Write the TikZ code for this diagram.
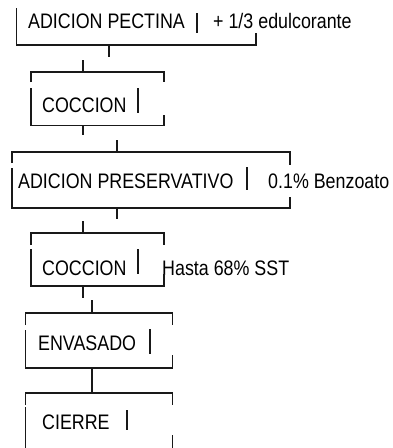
\documentclass[tikz,border=0pt]{standalone}
\usepackage{fontspec}
\setmainfont{Liberation Sans}[FakeStretch=0.85]
\begin{document}
\begin{tikzpicture}[x=1pt,y=-1pt,
  ln/.style={line width=1.2pt,black!90},
  lbl/.style={inner sep=0pt,anchor=base west,font=\fontsize{21}{24}\selectfont}]
\useasboundingbox (0,0) rectangle (392,448);
% ---- box 1
\node[lbl] (t1) at (28,28) {ADICION PECTINA};
\node[lbl] (n1) at (213,28) {+ 1/3 edulcorante};
\draw[ln] (16.5,8) -- (16.5,45) -- (256,45) -- (256,33);
\draw[ln] (197,13) -- (197,33);
% connectors
\coordinate (c1a) at (109,45); \coordinate (c1b) at (109,57);
\draw[ln] (c1a) -- (c1b);
\coordinate (c2a) at (83,60); \coordinate (c2b) at (83,72);
\draw[ln] (c2a) -- (c2b);
% ---- box 2
\node[lbl] (t2) at (42,112) {COCCION};
\draw[ln] (31,82) -- (31,72) -- (164,72) -- (164,82);
\draw[ln] (31,88) -- (31,125.5) -- (164,125.5) -- (164,115);
\draw[ln] (138,88) -- (138,113);
\coordinate (c3a) at (83,125.5); \coordinate (c3b) at (83,135);
\draw[ln] (c3a) -- (c3b);
\coordinate (c4a) at (117,140); \coordinate (c4b) at (117,152);
\draw[ln] (c4a) -- (c4b);
% ---- box 3
\node[lbl] (t3) at (18,188) {ADICION PRESERVATIVO};
\node[lbl] (n3) at (268,188) {0.1\% Benzoato};
\draw[ln] (12,163) -- (12,152) -- (290,152) -- (290,165);
\draw[ln] (12,168) -- (12,208) -- (290,208) -- (290,197);
\draw[ln] (247,167) -- (247,190);
\coordinate (c5a) at (117,208); \coordinate (c5b) at (117,219);
\draw[ln] (c5a) -- (c5b);
\coordinate (c6a) at (83,221); \coordinate (c6b) at (83,233);
\draw[ln] (c6a) -- (c6b);
% ---- box 4
\node[lbl] (t4) at (42,275) {COCCION};
\node[lbl] (n4) at (162,275) {Hasta 68\% SST};
\draw[ln] (31,245) -- (31,233) -- (164,233) -- (164,245);
\draw[ln] (31,249) -- (31,286) -- (164,286) -- (164,274);
\draw[ln] (138,249) -- (138,274);
\coordinate (c7a) at (83,286); \coordinate (c7b) at (83,298);
\draw[ln] (c7a) -- (c7b);
\coordinate (c8a) at (92,300); \coordinate (c8b) at (92,313);
\draw[ln] (c8a) -- (c8b);
% ---- box 5
\node[lbl] (t5) at (38,350) {ENVASADO};
\draw[ln] (25.5,325) -- (25.5,313) -- (172.5,313) -- (172.5,325);
\draw[ln] (25.5,330) -- (25.5,368) -- (172.5,368) -- (172.5,355);
\draw[ln] (150,329) -- (150,354);
\coordinate (c9a) at (92,368); \coordinate (c9b) at (92,393);
\draw[ln] (c9a) -- (c9b);
% ---- box 6
\node[lbl] (t6) at (42,429) {CIERRE};
\draw[ln] (25.5,405) -- (25.5,393) -- (172.5,393) -- (172.5,405);
\draw[ln] (25.5,407) -- (25.5,448);
\draw[ln] (172.5,435) -- (172.5,448);
\draw[ln] (127,410) -- (127,430);
\end{tikzpicture}
\end{document}
